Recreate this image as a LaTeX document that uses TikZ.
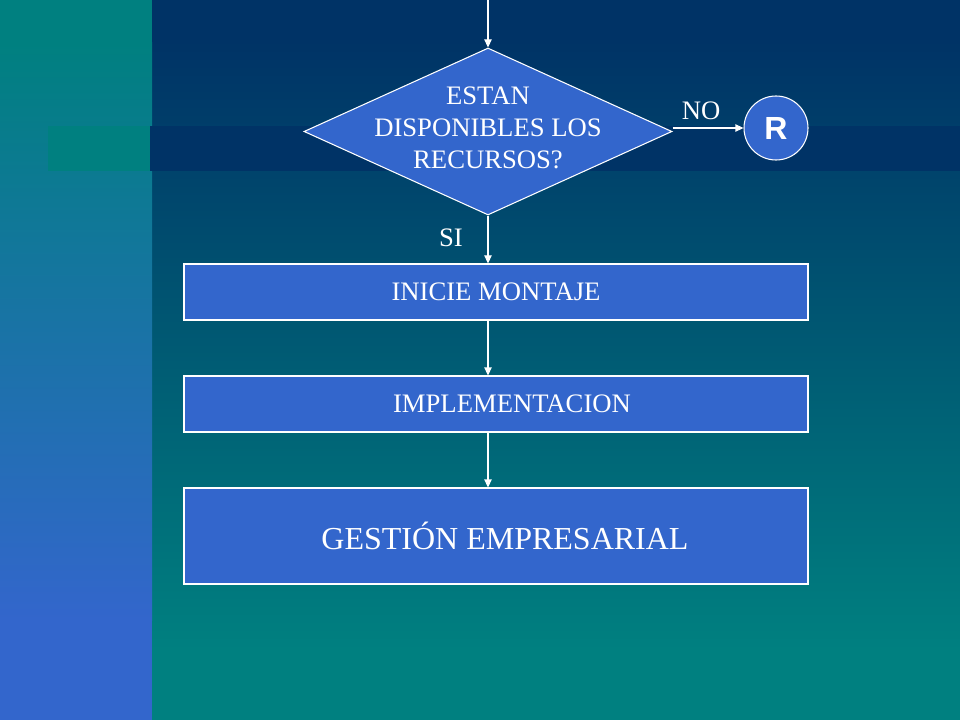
\documentclass[tikz,border=0pt]{standalone}
\usepackage{fontspec}
\setmainfont{Liberation Serif}
\newfontfamily\rfont{Liberation Sans}
\usetikzlibrary{shapes.geometric,arrows.meta}
\definecolor{navy}{HTML}{003366}
\definecolor{tealc}{HTML}{008080}
\definecolor{boxblue}{HTML}{3366CC}
\tikzset{
  procbox/.style={draw=white,line width=0.8pt,fill=boxblue,minimum width=468pt,minimum height=42pt,inner sep=0pt,text=white,font=\fontsize{20}{24}\selectfont},
  decbox/.style={diamond,draw=white,line width=0.8pt,fill=boxblue,minimum width=276pt,minimum height=125.25pt,inner sep=0pt},
  dectext/.style={align=center,text=white,font=\fontsize{20}{24}\selectfont,inner sep=0pt},
  arr/.style={white,line width=0.8pt,-{Triangle[width=5.5pt,length=6pt]}},
  circnode/.style={circle,draw=white,line width=0.8pt,fill=boxblue,minimum size=48pt,inner sep=0pt,text=white,font=\rfont\bfseries\fontsize{24}{28}\selectfont},
  lbl/.style={text=white,font=\fontsize{20}{24}\selectfont,inner sep=0pt}
}
\begin{document}
\begin{tikzpicture}[x=0.75pt,y=-0.75pt]
\useasboundingbox (0,0) rectangle (960,720);
% background right area
\fill[navy] (152,0) rectangle (960,40);
\shade[top color=navy,bottom color=tealc] (152,40) rectangle (960,650);
\fill[tealc] (152,650) rectangle (960,720);
% background left strip
\fill[tealc] (0,0) rectangle (152,43);
\shade[top color=tealc,bottom color=boxblue] (0,43) rectangle (152,620);
\fill[boxblue] (0,620) rectangle (152,720);
% band
\fill[tealc] (48,126) rectangle (152,171);
\fill[navy] (150,126) rectangle (960,171);
% nodes
\coordinate (top) at (488,0);
\node[decbox] (dec) at (488,131.5) {};
\node[dectext] (dect) at (488,128) {ESTAN\\DISPONIBLES LOS\\RECURSOS?};
\node[circnode] (R) at (776,128) {R};
\node[procbox] (b1) at (496,292) {INICIE MONTAJE};
\node[procbox] (b2) at (496,404) {\hspace*{24pt}IMPLEMENTACION};
\node[procbox,minimum height=72pt,font=\fontsize{24}{28}\selectfont] (b3) at (496,536) {\hspace*{13.5pt}GESTIÓN EMPRESARIAL};
\node[lbl] (no) at (701,111) {NO};
\node[lbl] (si) at (451,238) {SI};
% connectors
\draw[arr] (top) -- (dec.north);
\draw[arr] (dec.east |- R.west) -- (R.west);
\draw[arr] (dec.south) -- (dec.south |- b1.north);
\draw[arr] (b1.south -| dec.south) -- (b2.north -| dec.south);
\draw[arr] (b2.south -| dec.south) -- (b3.north -| dec.south);
\end{tikzpicture}
\end{document}
